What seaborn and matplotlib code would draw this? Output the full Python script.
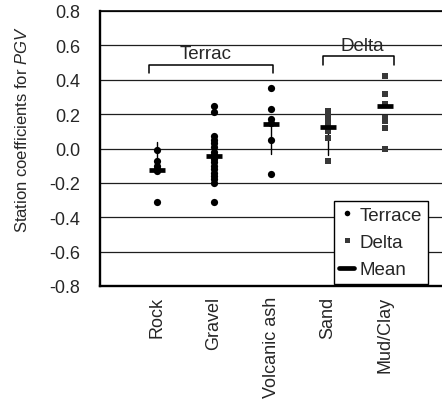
import numpy as np
import pandas as pd
import matplotlib
matplotlib.use("Agg")
import matplotlib.pyplot as plt
from matplotlib.lines import Line2D
import seaborn as sns

# Site categories and their geological groups
categories = ["Rock", "Gravel", "Volcanic ash", "Sand", "Mud/Clay"]
groups = ["Terrace", "Terrace", "Terrace", "Delta", "Delta"]

# Station coefficients for PGV at each site class
rock = [-0.01, -0.07, -0.10, -0.12, -0.13, -0.31]
gravel = [0.25, 0.21, 0.07, 0.05, 0.03, 0.01, -0.02, -0.04, -0.06, -0.08,
          -0.10, -0.12, -0.14, -0.16, -0.18, -0.20, -0.31]
volcanic_ash = [0.35, 0.23, 0.17, 0.15, 0.05, -0.15]
sand = [0.22, 0.19, 0.16, 0.14, 0.12, 0.10, 0.06, -0.07]
mud_clay = [0.42, 0.32, 0.26, 0.18, 0.16, 0.12, 0.00]

# Mean of each class and the vertical range line drawn from it
means = [-0.125, -0.045, 0.145, 0.125, 0.25]
range_lo = [-0.125, np.nan, -0.03, -0.04, np.nan]
range_hi = [0.035, np.nan, 0.145, 0.125, np.nan]

yticks = [0.8, 0.6, 0.4, 0.2, 0.0, -0.2, -0.4, -0.6, -0.8]

series = [rock, gravel, volcanic_ash, sand, mud_clay]
rows = []
for i, (cat, grp, vals) in enumerate(zip(categories, groups, series)):
    for v in vals:
        rows.append({"pos": i + 1, "category": cat, "group": grp, "value": v})
df = pd.DataFrame(rows)

sns.set_style("white")
plt.rcParams["font.family"] = ["Liberation Sans", "DejaVu Sans"]
plt.rcParams["mathtext.fontset"] = "custom"
plt.rcParams["mathtext.rm"] = "Liberation Sans"
plt.rcParams["mathtext.it"] = "Liberation Sans:italic"

DPI = 100
fig = plt.figure(figsize=(4.42, 4.06), dpi=DPI)
ax = fig.add_axes([100 / 442, 1 - 287 / 406, 342 / 442, 275 / 406])

# horizontal reference lines
for t in yticks:
    ax.axhline(t, color="#1e1e1e", lw=0.9, zorder=0)

# range lines
for i in range(len(categories)):
    if not np.isnan(range_lo[i]):
        ax.plot([i + 1, i + 1], [range_lo[i], range_hi[i]], color="black",
                lw=1.0, zorder=1)

sns.scatterplot(data=df[df.group == "Terrace"], x="pos", y="value",
                color="black", marker="o", s=27, linewidth=0, ax=ax,
                legend=False, zorder=2)
sns.scatterplot(data=df[df.group == "Delta"], x="pos", y="value",
                color="#383838", marker="s", s=18, linewidth=0, ax=ax,
                legend=False, zorder=2)

# mean bars
ax.plot(np.arange(1, len(categories) + 1), means, linestyle="none",
        marker="_", markersize=12, markeredgewidth=3.4, color="black",
        zorder=3)

ax.set_xlim(0, 6)
ax.set_ylim(-0.8, 0.8)
ax.set_yticks(yticks)
ax.set_yticklabels([f"{t:.1f}" for t in yticks], fontsize=13)
ax.set_xticks(np.arange(1, len(categories) + 1))
ax.set_xticklabels(categories, rotation=90, fontsize=13, va="top")
ax.tick_params(axis="y", length=0, pad=14)
ax.tick_params(axis="x", length=0, pad=7)
ax.set_xlabel("")
ax.set_ylabel("")

for side in ["left", "bottom"]:
    ax.spines[side].set_linewidth(1.7)
    ax.spines[side].set_color("black")
ax.spines["top"].set_linewidth(1.2)
ax.spines["top"].set_color("black")
ax.spines["right"].set_visible(False)

# group brackets
ax.plot([0.86, 0.86, 3.03, 3.03], [0.437, 0.484, 0.484, 0.437],
        color="black", lw=1.1, zorder=2)
ax.text(1.85, 0.55, "Terrac", fontsize=13.5, ha="center", va="center")
ax.plot([3.91, 3.91, 5.16, 5.16], [0.484, 0.536, 0.536, 0.484],
        color="black", lw=1.1, zorder=2)
ax.text(4.6, 0.60, "Delta", fontsize=13.5, ha="center", va="center")

fig.text(22 / 442, 1 - 130 / 406, "Station coefficients for $\\it{PGV}$",
         rotation=90, ha="center", va="center", fontsize=12)

handles = [
    Line2D([], [], linestyle="none", marker="o", markersize=4,
           color="black", markeredgewidth=0),
    Line2D([], [], linestyle="none", marker="s", markersize=3.6,
           color="#383838", markeredgewidth=0),
    Line2D([], [], linestyle="-", lw=3.4, color="black"),
]
leg = ax.legend(handles, ["Terrace", "Delta", "Mean"], loc="lower right",
                bbox_to_anchor=(0.959, 0.007), fontsize=13.5, frameon=True,
                fancybox=False, framealpha=1, edgecolor="black",
                handlelength=0.8, handletextpad=0.3, borderpad=0.3,
                labelspacing=0.55, borderaxespad=0)
leg.get_frame().set_linewidth(1.0)

fig.savefig("out.png", dpi=DPI)
